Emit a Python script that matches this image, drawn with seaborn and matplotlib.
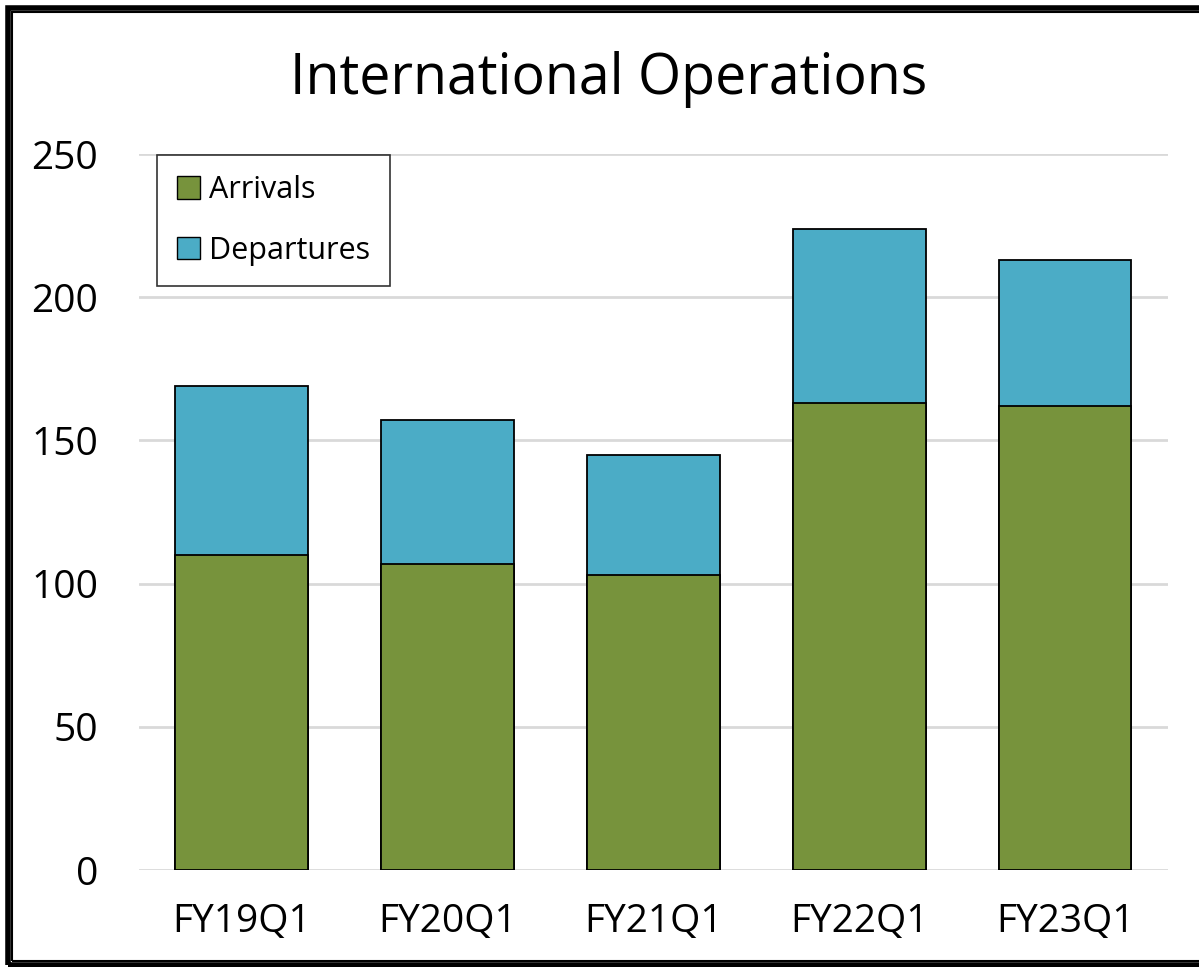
import pandas as pd
import matplotlib
matplotlib.use("Agg")
import matplotlib.pyplot as plt
import seaborn as sns
from matplotlib.patches import Rectangle, Patch

# data
quarters = ["FY19Q1", "FY20Q1", "FY21Q1", "FY22Q1", "FY23Q1"]
arrivals = [110, 107, 103, 163, 162]
departures = [59, 50, 42, 61, 51]

green = "#77933C"
blue = "#4BACC6"

df = pd.DataFrame({"quarter": quarters, "arrivals": arrivals, "departures": departures})
df["total"] = df["arrivals"] + df["departures"]

sns.set_style("white")
plt.rcParams["font.family"] = ["Open Sans", "DejaVu Sans"]
plt.rcParams["text.color"] = "black"
plt.rcParams["xtick.color"] = "black"
plt.rcParams["ytick.color"] = "black"

fig = plt.figure(figsize=(11.99, 9.67), dpi=100)
ax = fig.add_axes([0.1159, 0.1003, 0.8582, 0.7404])

# stacked: draw totals first (departures colour), arrivals over them
sns.barplot(data=df, x="quarter", y="total", color=blue, width=0.645,
            edgecolor="black", linewidth=1.3, saturation=1, ax=ax, zorder=2)
sns.barplot(data=df, x="quarter", y="arrivals", color=green, width=0.645,
            edgecolor="black", linewidth=1.3, saturation=1, ax=ax, zorder=3)

ax.set_xlim(-0.5, 4.5)
ax.set_ylim(0, 250)
ax.set_yticks([0, 50, 100, 150, 200, 250])
ax.yaxis.grid(True, color="#d9d9d9", linewidth=2, zorder=0)
ax.set_axisbelow(True)
for s in ax.spines.values():
    s.set_visible(False)
ax.set_xlabel("")
ax.set_ylabel("")
ax.tick_params(axis="y", length=0, pad=29.5, labelsize=28)
ax.tick_params(axis="x", length=0, pad=24, labelsize=28)

fig.text(0.508, 0.918, "International Operations", ha="center", va="center", fontsize=40)

handles = [Patch(facecolor=green, edgecolor="black", label="Arrivals"),
           Patch(facecolor=blue, edgecolor="black", label="Departures")]
leg = ax.legend(handles=handles, loc="upper left", bbox_to_anchor=(0.018, 0.998),
                fontsize=22, frameon=True, fancybox=False, borderpad=0.65,
                labelspacing=1.0, handlelength=0.75, handleheight=0.75,
                handletextpad=0.3, borderaxespad=0)
leg.get_frame().set_edgecolor("black")
leg.get_frame().set_linewidth(1.2)

# double frame around the chart
fig.add_artist(Rectangle((7.5 / 1199, 2 / 967), 1.1, 957.5 / 967, transform=fig.transFigure,
                         fill=False, edgecolor="black", linewidth=4))
fig.add_artist(Rectangle((12 / 1199, 6 / 967), 1.1, 949 / 967, transform=fig.transFigure,
                         fill=False, edgecolor="black", linewidth=1.5))

plt.savefig("out.png", dpi=100)
